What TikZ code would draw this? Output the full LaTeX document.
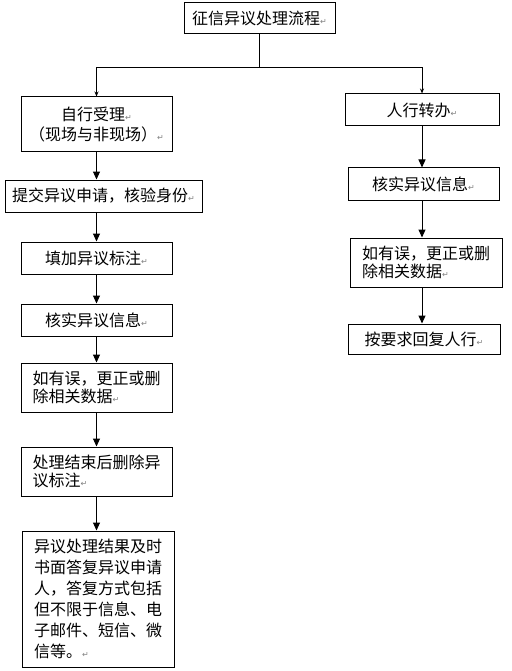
\documentclass[tikz,border=0pt]{standalone}
\usepackage{fontspec}
\newfontfamily\cjk{Noto Sans CJK SC}
\newfontfamily\retfont{DejaVu Sans}
\usetikzlibrary{arrows.meta}
\newcommand\ret{{\retfont\fontsize{8}{8}\selectfont\color{gray}↵}}

\begin{document}
\begin{tikzpicture}[x=1pt,y=-1pt,
    every node/.style={draw,line width=1pt,inner sep=0pt,align=center,
        font=\cjk\fontsize{16}{20}\selectfont},
    lines/.style={font=\cjk\fontsize{16}{#1}\selectfont},
    arr/.style={-{Triangle[length=8pt,width=7pt]},line width=1pt},
    fork/.style={-{Stealth[length=5pt,width=4pt]},line width=1pt}]

\useasboundingbox (0,0) rectangle (511,671);

\node[minimum width=151pt,minimum height=31pt] (title) at (259.5,18.5) {征信异议处理流程\ret};

% left column
\node[minimum width=151pt,minimum height=55pt] (self) at (96.5,124.5)
    {自行受理\ret\\（现场与非现场）\ret};
\node[minimum width=197pt,minimum height=32pt] (submit) at (103.5,196) {提交异议申请，核验身份\ret};
\node[minimum width=151pt,minimum height=32pt] (mark) at (96.5,258) {填加异议标注\ret};
\node[minimum width=151pt,minimum height=32pt] (verify) at (96.5,320) {核实异议信息\ret};
\node[minimum width=151pt,minimum height=49pt,align=left,lines=18.3] (fix) at (96.5,387.5)
    {如有误，更正或删\\除相关数据\ret};
\node[minimum width=151pt,minimum height=49pt,align=left,lines=18.3] (unmark) at (96.5,471.5)
    {处理结束后删除异\\议标注\ret};
\node[minimum width=152pt,minimum height=136pt,align=left,lines=21] (reply) at (98,599)
    {异议处理结果及时\\书面答复异议申请\\人，答复方式包括\\但不限于信息、电\\子邮件、短信、微\\信等。\ret};

% right column
\node[minimum width=154pt,minimum height=32pt] (pboc) at (422,110) {人行转办\ret};
\node[minimum width=151pt,minimum height=32pt] (pverify) at (423.5,184) {核实异议信息\ret};
\node[minimum width=152pt,minimum height=49pt,align=left,lines=18.3] (pfix) at (426,262.5)
    {如有误，更正或删\\除相关数据\ret};
\node[minimum width=152pt,minimum height=30pt] (preply) at (424,339) {按要求回复人行\ret};

\coordinate (split) at (259.5,68);
\draw[line width=1pt] (title.south) -- (split);
\draw[fork] (split) -| (self.north);
\draw[fork] (split) -| (pboc.north);

\foreach \a/\b in {self/submit,submit/mark,mark/verify,verify/fix,fix/unmark,unmark/reply}
    \draw[arr] (\a.south -| self.south) -- (\b.north -| self.south);
\foreach \a/\b in {pboc/pverify,pverify/pfix,pfix/preply}
    \draw[arr] (\a.south -| pboc.south) -- (\b.north -| pboc.south);

\end{tikzpicture}
\end{document}
